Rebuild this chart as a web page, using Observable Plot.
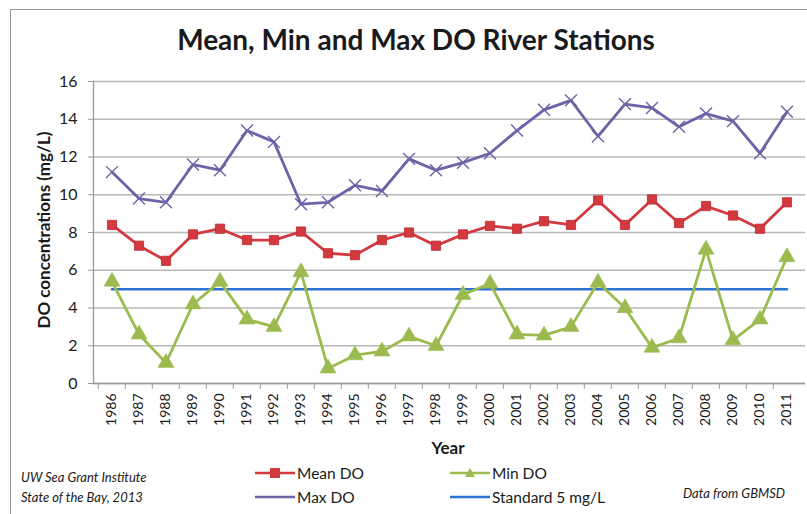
<!DOCTYPE html>
<html>
<head>
<meta charset="utf-8">
<script src="https://cdn.jsdelivr.net/npm/d3@7"></script>
<script src="https://cdn.jsdelivr.net/npm/@observablehq/plot@0.6"></script>
<style>
  html, body { margin: 0; padding: 0; background: #fff; }
  #wrap { position: relative; width: 807px; height: 514px; overflow: hidden; background: #fff; font-family: Lato, "Open Sans", sans-serif; color: #1a1a1a; }
  #frame { position: absolute; left: 10px; top: 9px; width: 900px; height: 600px; border: 1.5px solid #9a9a9a; box-sizing: border-box; }
  #chart { position: absolute; left: 0; top: 0; }
  .abs { position: absolute; white-space: nowrap; }
  #title { left: 0; width: 832px; top: 22px; text-align: center; font-weight: 700; font-size: 28px; }
  #ylabel { left: 43px; top: 230px; transform: translate(-50%, -50%) rotate(-90deg); font-weight: 700; font-size: 17px; }
  #xlabel { left: 448px; top: 447px; transform: translate(-50%, -50%); font-weight: 700; font-size: 17px; }
  .leg { font-size: 15.5px; display: flex; align-items: center; }
  .leg svg { margin-right: 2px; }
  .foot { font-style: italic; font-size: 13px; }
</style>
</head>
<body>
<div id="wrap">
  <div id="frame"></div>
  <div id="chart"></div>
  <div id="title" class="abs">Mean, Min and Max DO River Stations</div>
  <div id="ylabel" class="abs">DO concentrations (mg/L)</div>
  <div id="xlabel" class="abs">Year</div>
  <div id="legend"></div>
  <div class="abs foot" style="left:21px; top:469px;">UW Sea Grant Institute</div>
  <div class="abs foot" style="left:21px; top:489px;">State of the Bay, 2013</div>
  <div class="abs foot" style="left:683px; top:485px;">Data from GBMSD</div>
</div>
<script>
const years = ["1986","1987","1988","1989","1990","1991","1992","1993","1994","1995","1996","1997","1998","1999","2000","2001","2002","2003","2004","2005","2006","2007","2008","2009","2010","2011"];
const meanDO = [8.4,7.3,6.5,7.9,8.2,7.6,7.6,8.05,6.9,6.8,7.6,8.0,7.3,7.9,8.35,8.2,8.6,8.4,9.7,8.4,9.75,8.5,9.4,8.9,8.2,9.6];
const minDO  = [5.4,2.6,1.1,4.2,5.4,3.4,3.0,5.9,0.8,1.5,1.7,2.5,2.0,4.7,5.3,2.6,2.55,3.0,5.35,4.0,1.9,2.4,7.1,2.3,3.4,6.7];
const maxDO  = [11.2,9.8,9.6,11.6,11.3,13.4,12.8,9.5,9.6,10.5,10.2,11.9,11.3,11.7,12.2,13.4,14.5,15.0,13.1,14.8,14.6,13.6,14.3,13.9,12.2,14.4];
const standardDO = 5;
const yTicks = [0,2,4,6,8,10,12,14,16];

const colors = {mean: "#d33a40", min: "#9bbb4f", max: "#6f62a6", std: "#2e72d2"};

const rows = (vals) => years.map((y, i) => ({year: y, value: vals[i]}));
const meanRows = rows(meanDO), minRows = rows(minDO), maxRows = rows(maxDO);
const stdRows = years.map(y => ({year: y, value: standardDO}));

const W = 807, H = 514, mL = 93, mR = 2, mT = 81, mB = 131;
const bw = (W - mL - mR) / years.length;

const chart = Plot.plot({
  width: W, height: H,
  marginLeft: mL, marginRight: mR, marginTop: mT, marginBottom: mB,
  style: {fontFamily: "Lato, 'Open Sans', sans-serif", color: "#1a1a1a", background: "transparent", overflow: "visible"},
  x: {type: "band", domain: years, padding: 0, axis: null},
  y: {domain: [0, 16], axis: null},
  marks: [
    Plot.gridY(yTicks, {stroke: "#b8b8b8", strokeOpacity: 1, strokeWidth: 1.3}),
    Plot.ruleY([0], {stroke: "#9a9a9a", strokeWidth: 1.3}),
    Plot.frame({anchor: "left", stroke: "#9a9a9a", strokeWidth: 1.3}),
    Plot.axisY(yTicks, {tickSize: 5, tickPadding: 11, fontSize: 16, label: null, stroke: "#9a9a9a", fill: "#1a1a1a"}),
    Plot.axisX({tickSize: 0, tickPadding: 10, tickRotate: -90, fontSize: 14, label: null, fill: "#1a1a1a"}),
    Plot.axisX({text: null, tickSize: 6, dx: -bw / 2, label: null, stroke: "#9a9a9a"}),
    Plot.lineY(stdRows, {x: "year", y: "value", stroke: colors.std, strokeWidth: 2.5}),
    Plot.lineY(meanRows, {x: "year", y: "value", stroke: colors.mean, strokeWidth: 2.8}),
    Plot.dot(meanRows, {x: "year", y: "value", symbol: "square", r: 5.2, fill: colors.mean, stroke: "#c02a30", strokeWidth: 0.8}),
    Plot.lineY(minRows, {x: "year", y: "value", stroke: colors.min, strokeWidth: 2.8}),
    Plot.dot(minRows, {x: "year", y: "value", symbol: "triangle", r: 6, fill: colors.min, stroke: colors.min, strokeWidth: 0.5}),
    Plot.lineY(maxRows, {x: "year", y: "value", stroke: colors.max, strokeWidth: 2.8}),
    Plot.dot(maxRows, {x: "year", y: "value", symbol: "times", r: 5.5, stroke: colors.max, strokeWidth: 1.4})
  ]
});
document.getElementById("chart").appendChild(chart);

// legend
const legendItems = [
  {label: "Mean DO", color: colors.mean, marker: "square", left: 255, top: 473},
  {label: "Min DO", color: colors.min, marker: "triangle", left: 450, top: 473},
  {label: "Max DO", color: colors.max, marker: "none", left: 255, top: 497},
  {label: "Standard 5 mg/L", color: colors.std, marker: "none", left: 450, top: 497}
];
const legend = document.getElementById("legend");
for (const it of legendItems) {
  const d = document.createElement("div");
  d.className = "abs leg";
  d.style.left = it.left + "px";
  d.style.top = (it.top - 10) + "px";
  d.style.height = "20px";
  let m = "";
  if (it.marker === "square") m = `<rect x="15" y="5" width="10" height="10" fill="${it.color}"/>`;
  if (it.marker === "triangle") m = `<path d="M20,5 L25,14 L15,14 Z" fill="${it.color}"/>`;
  d.innerHTML = `<svg width="40" height="20"><line x1="0" x2="40" y1="10" y2="10" stroke="${it.color}" stroke-width="2.5"/>${m}</svg><span>${it.label}</span>`;
  legend.appendChild(d);
}
</script>
</body>
</html>
